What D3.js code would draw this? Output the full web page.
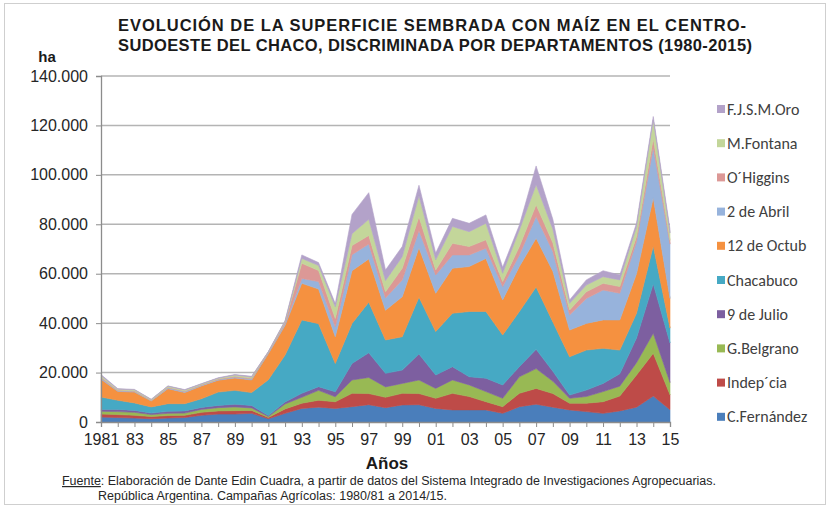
<!DOCTYPE html>
<html>
<head>
<meta charset="utf-8">
<script src="https://cdn.jsdelivr.net/npm/d3@7"></script>
<style>
  body { margin: 0; background: #fff; }
  svg { display: block; }
</style>
</head>
<body>
<div class="canvas"></div>
<script>
// superficie sembrada, en miles de ha
const years = [1981,1982,1983,1984,1985,1986,1987,1988,1989,1990,
               1991,1992,1993,1994,1995,1996,1997,1998,1999,2000,
               2001,2002,2003,2004,2005,2006,2007,2008,2009,2010,
               2011,2012,2013,2014,2015];

const cFernandez = [2.0,1.8,1.6,1.3,1.6,1.8,2.7,3.2,3.2,3.5, 1.3,3.5,5.5,6.0,5.5,6.2,7.0,5.8,6.9,7.0, 5.5,4.9,4.9,4.9,3.5,6.2,7.2,6.0,4.9,4.2, 3.5,4.5,6.0,10.5,5.0];
const indepcia   = [1.2,1.2,1.1,0.9,1.0,0.9,1.2,1.3,1.4,1.2, 0.5,1.8,2.1,2.8,2.7,5.4,4.5,4.2,4.7,4.5, 4.1,6.7,5.4,3.3,2.7,5.4,6.4,5.5,2.7,3.4, 4.7,6.0,13.0,17.3,6.0];
const gBelgrano  = [1.1,1.2,1.2,0.8,0.9,0.9,1.2,1.3,1.5,1.0, 0.4,2.0,2.4,4.0,2.0,5.4,6.5,4.2,4.0,5.5, 4.0,5.4,4.7,4.1,3.4,6.7,8.0,5.0,2.0,2.7, 4.1,4.0,5.0,8.1,5.0];
const nueveJulio = [0.8,0.9,0.8,0.6,0.8,0.9,0.8,0.9,1.1,1.0, 0.4,0.8,1.6,1.5,2.0,6.7,10.0,5.5,5.4,10.5, 5.4,5.4,3.3,5.4,5.4,4.1,7.8,4.0,1.3,2.6, 3.3,5.0,10.0,20.0,16.0];
const chacabuco  = [5.0,3.7,3.0,2.5,3.1,2.9,3.5,5.4,5.6,5.2, 14.5,19.0,29.7,25.5,11.5,16.2,20.5,13.5,13.5,23.0, 17.6,21.6,26.4,27.0,20.2,22.3,25.2,20.0,15.5,16.2, 14.2,9.6,10.0,15.3,6.0];
const doceOctub  = [7.2,3.6,4.4,2.4,6.1,4.5,5.2,4.8,5.0,5.1, 10.5,12.0,14.8,14.0,10.8,21.3,17.5,12.0,16.2,20.0, 15.5,18.2,18.2,21.5,14.2,18.2,19.8,20.5,10.8,10.8, 11.5,12.2,16.0,19.5,12.0];
const dosAbril   = [0.5,0.3,0.3,0.2,0.4,0.4,0.3,0.3,0.4,0.4, 0.4,0.8,2.0,3.0,4.0,6.5,6.0,5.0,6.8,7.0, 7.4,5.4,4.7,4.1,5.4,4.7,8.8,8.0,6.1,10.1, 12.1,10.8,13.0,20.5,22.0];
const oHiggins   = [0.4,0.2,0.2,0.1,0.2,0.2,0.2,0.2,0.3,0.3, 0.2,0.5,6.1,4.5,3.4,3.7,3.5,2.5,4.7,5.5, 2.0,4.7,3.4,3.4,2.0,3.4,4.7,3.5,2.0,2.7, 2.7,2.7,2.0,3.5,1.5];
const mFontana   = [0.6,0.4,0.4,0.3,0.4,0.4,0.3,0.3,0.5,0.5, 0.2,0.4,2.0,2.0,4.7,4.8,6.5,4.5,4.7,8.5, 4.1,6.8,6.0,6.7,3.4,6.7,8.1,5.5,2.7,2.7, 2.7,2.7,4.0,7.5,3.0];
const fjsmOro    = [0.4,0.2,0.2,0.1,0.1,0.2,0.1,0.2,0.2,0.3, 0.1,0.2,1.4,1.2,1.3,7.8,10.8,4.3,4.1,4.3, 2.8,3.3,3.4,3.4,2.4,2.0,7.6,4.0,1.4,2.1, 2.4,2.0,1.5,1.4,1.5];

// de abajo hacia arriba
const seriesNames = ["C.Fernández","Indep´cia","G.Belgrano","9 de Julio","Chacabuco",
                     "12 de Octub","2 de Abril","O´Higgins","M.Fontana","F.J.S.M.Oro"];
const seriesValues = [cFernandez, indepcia, gBelgrano, nueveJulio, chacabuco,
                      doceOctub, dosAbril, oHiggins, mFontana, fjsmOro];
const seriesColors = ["#4a7ebb","#be4b48","#98b954","#7d5fa0","#46a9c4",
                      "#f59140","#97b3dc","#dc9896","#c3d69a","#b3a2c9"];
const yTicks = [0,20,40,60,80,100,120,140];

const W = 830, H = 508;
const svg = d3.select('.canvas').append('svg')
   .attr('width', W)
   .attr('height', H)
   .style('font-family', 'Liberation Sans, Arial, sans-serif');

svg.append('rect')
   .attr('x', 4.5).attr('y', 3.5)
   .attr('width', W - 9).attr('height', H - 7)
   .attr('fill', 'none')
   .attr('stroke', '#cfcfcf');

const x = d3.scaleLinear().domain([1981, 2015]).range([101, 670]);
const y = d3.scaleLinear().domain([0, 140]).range([422, 76]);

// tabla para d3.stack
const table = years.map((yr, i) => {
   const row = { year: yr };
   seriesNames.forEach((n, k) => row[n] = seriesValues[k][i]);
   return row;
});
const stacked = d3.stack().keys(seriesNames)(table);

// grilla
svg.append('g')
   .selectAll('line')
   .data(yTicks.slice(1))
   .enter().append('line')
   .attr('x1', 101).attr('x2', 670)
   .attr('y1', d => y(d)).attr('y2', d => y(d))
   .attr('stroke', '#b4b4b4')
   .attr('stroke-width', 1.5);

const area = d3.area()
   .x(d => x(d.data.year))
   .y0(d => y(d[0]))
   .y1(d => y(d[1]));

svg.append('g')
   .selectAll('path')
   .data(stacked)
   .enter().append('path')
   .attr('d', area)
   .attr('fill', (d, i) => seriesColors[i])
   .attr('stroke', (d, i) => seriesColors[i])
   .attr('stroke-width', 0.6);

// ejes
const locale = d3.formatLocale({ decimal: ",", thousands: ".", grouping: [3], currency: ["$", ""] });
const fmt = locale.format(",");

const yAxis = d3.axisLeft(y)
   .tickValues(yTicks)
   .tickSize(5)
   .tickPadding(8)
   .tickFormat(d => fmt(d * 1000));

const yAxisGroup = svg.append('g')
   .attr('transform', 'translate(101,0)')
   .call(yAxis);

const xAxis = d3.axisBottom(x)
   .tickValues(years)
   .tickSize(5)
   .tickPadding(7)
   .tickFormat(d => {
      if (d === 1981) return "1981";
      if (d % 2 === 0) return "";
      return String(d % 100).padStart(2, "0");
   });

const xAxisGroup = svg.append('g')
   .attr('transform', 'translate(0,422)')
   .call(xAxis);

[yAxisGroup, xAxisGroup].forEach(g => {
   g.select('.domain').attr('stroke', '#8c8c8c').attr('stroke-width', 1.3);
   g.selectAll('.tick line').attr('stroke', '#8c8c8c');
   g.selectAll('text')
      .attr('fill', '#262626')
      .style('font-size', '16px')
      .style('font-family', 'Liberation Sans, Arial, sans-serif');
});

// títulos
const titleFont = 'Liberation Sans Narrow, Arial Narrow, Liberation Sans, sans-serif';
svg.append('text')
   .attr('x', 118).attr('y', 31)
   .attr('textLength', 628).attr('lengthAdjust', 'spacing')
   .style('font-family', titleFont)
   .style('font-weight', 'bold').style('font-size', '16.5px')
   .attr('fill', '#1a1a1a')
   .text('EVOLUCIÓN DE LA SUPERFICIE SEMBRADA CON MAÍZ EN EL CENTRO-');
svg.append('text')
   .attr('x', 118).attr('y', 51)
   .attr('textLength', 634).attr('lengthAdjust', 'spacing')
   .style('font-family', titleFont)
   .style('font-weight', 'bold').style('font-size', '16.5px')
   .attr('fill', '#1a1a1a')
   .text('SUDOESTE DEL CHACO, DISCRIMINADA POR DEPARTAMENTOS (1980-2015)');

svg.append('text')
   .attr('x', 47).attr('y', 62)
   .attr('text-anchor', 'middle')
   .style('font-weight', 'bold').style('font-size', '15px')
   .attr('fill', '#1a1a1a')
   .text('ha');

svg.append('text')
   .attr('x', 387).attr('y', 469)
   .attr('text-anchor', 'middle')
   .style('font-family', titleFont)
   .style('font-weight', 'bold').style('font-size', '17px')
   .attr('fill', '#1a1a1a')
   .text('Años');

// leyenda
const legendOrder = seriesNames.slice().reverse();
const legend = svg.selectAll('.legend')
   .data(legendOrder)
   .enter().append('g')
   .attr('class', 'legend')
   .attr('transform', (d, i) => `translate(717, ${109 + i * 34.2})`);

legend.append('rect')
   .attr('x', 0).attr('y', -4)
   .attr('width', 8).attr('height', 8)
   .attr('fill', d => seriesColors[seriesNames.indexOf(d)]);

legend.append('text')
   .attr('x', 10).attr('y', 5.5)
   .style('font-family', 'Carlito, Lato, Open Sans, sans-serif')
   .style('font-size', '16px')
   .attr('fill', '#404040')
   .text(d => d);

// fuente
const foot = svg.append('g')
   .style('font-family', titleFont)
   .style('font-size', '12px')
   .attr('fill', '#262626');

const f1 = foot.append('text').attr('x', 62).attr('y', 485)
   .attr('textLength', 654).attr('lengthAdjust', 'spacingAndGlyphs');
f1.append('tspan').attr('text-decoration', 'underline').text('Fuente');
f1.append('tspan').text(': Elaboración de Dante Edin Cuadra, a partir de datos del Sistema Integrado de Investigaciones Agropecuarias.');

foot.append('text')
   .attr('x', 98).attr('y', 500)
   .attr('textLength', 349).attr('lengthAdjust', 'spacingAndGlyphs')
   .text('República Argentina. Campañas Agrícolas: 1980/81 a 2014/15.');
</script>
</body>
</html>
